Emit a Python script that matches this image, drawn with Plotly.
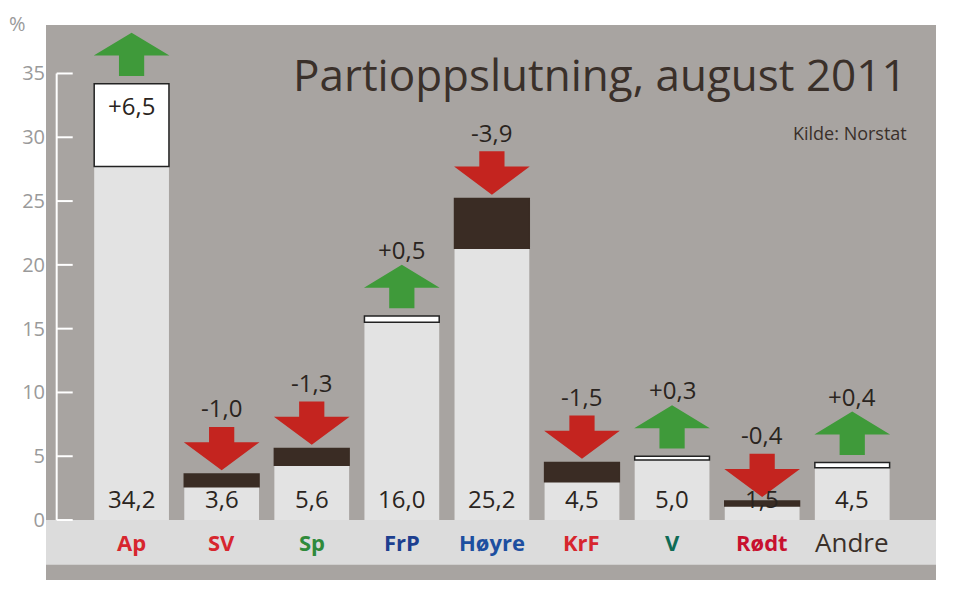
import plotly.graph_objects as go

parties = ["Ap", "SV", "Sp", "FrP", "Høyre", "KrF", "V", "Rødt", "Andre"]
values = [34.2, 3.6, 5.6, 16.0, 25.2, 4.5, 5.0, 1.5, 4.5]
changes = [6.5, -1.0, -1.3, 0.5, -3.9, -1.5, 0.3, -0.4, 0.4]
logo_colors = ["#d7262e", "#d7262e", "#2f8a3a", "#1d3f8f", "#1d4fa0", "#d7262e", "#0f6b55", "#c8102e", "#3a302a"]
tick_vals = [0, 5, 10, 15, 20, 25, 30, 35]

def fmt(v, sign=False):
    s = f"{abs(v):.1f}".replace(".", ",")
    if sign:
        s = ("+" if v >= 0 else "-") + s
    return s

x = list(range(len(parties)))
base = [v - abs(c) for v, c in zip(values, changes)]
seg = [abs(c) for c in changes]
seg_col = ["white" if c > 0 else "#3a2c24" for c in changes]
seg_line = ["#222" if c > 0 else "#3a2c24" for c in changes]

fig = go.Figure()
fig.add_bar(x=x, y=base, marker=dict(color="#e3e3e3", line=dict(width=0)), width=0.83, hoverinfo="skip")
fig.add_bar(x=x, y=seg, base=base, marker=dict(color=seg_col, line=dict(color=seg_line, width=1.5)), width=0.83, hoverinfo="skip")

shapes = []
shapes.append(dict(type="rect", xref="paper", yref="y", x0=0, x1=1, y0=-3.5, y1=0, fillcolor="#dcdcdc", line=dict(width=0), layer="below"))
shapes.append(dict(type="line", xref="paper", yref="y", x0=0.012, x1=0.012, y0=0, y1=35, line=dict(color="white", width=2)))
for t in tick_vals:
    shapes.append(dict(type="line", xref="paper", yref="y", x0=0.012, x1=0.03, y0=t, y1=t, line=dict(color="white", width=2)))

annots = []
for i, (v, c) in enumerate(zip(values, changes)):
    hw, sw = 0.42, 0.14
    if c > 0:
        b = v + 0.6
        pts = [(i - sw, b), (i - sw, b + 1.6), (i - hw, b + 1.6), (i, b + 3.4), (i + hw, b + 1.6), (i + sw, b + 1.6), (i + sw, b)]
        col = "#3f9a3a"
    else:
        t = v + 3.7
        pts = [(i - sw, t), (i - sw, t - 1.2), (i - hw, t - 1.2), (i, v + 0.3), (i + hw, t - 1.2), (i + sw, t - 1.2), (i + sw, t)]
        col = "#c4241f"
    path = "M " + " L ".join(f"{px},{py}" for px, py in pts) + " Z"
    shapes.append(dict(type="path", xref="x", yref="y", path=path, fillcolor=col, line=dict(width=0)))
    ly = v + 5.2 if v + 5.2 < 37 else v - 1.7
    annots.append(dict(x=i, y=ly, text=fmt(c, True), showarrow=False, font=dict(size=24, color="#2a2420")))
    annots.append(dict(x=i, y=1.7, text=fmt(v), showarrow=False, font=dict(size=24, color="#2a2420")))
    annots.append(dict(x=i, y=-1.75, text=f"<b>{parties[i]}</b>" if i < 8 else parties[i], showarrow=False,
                       font=dict(size=22 if i < 8 else 26, color=logo_colors[i])))

annots.append(dict(xref="paper", yref="paper", x=0.97, y=0.97, xanchor="right", yanchor="top",
                   text="Partioppslutning, august 2011", showarrow=False, font=dict(size=44, color="#3a302a")))
annots.append(dict(xref="paper", yref="paper", x=0.97, y=0.83, xanchor="right", yanchor="top",
                   text="Kilde: Norstat", showarrow=False, font=dict(size=18, color="#3a302a")))
annots.append(dict(xref="paper", yref="paper", x=-0.02, y=1.03, xanchor="right", yanchor="top",
                   text="%", showarrow=False, font=dict(size=20, color="#9a9a9a")))

fig.update_layout(
    width=960, height=604, barmode="overlay", showlegend=False,
    paper_bgcolor="white", plot_bgcolor="#a8a4a1",
    margin=dict(l=38, r=32, t=17, b=32),
    font=dict(family="Open Sans, DejaVu Sans"),
    shapes=shapes, annotations=annots,
    xaxis=dict(range=[-0.95, 8.93], showticklabels=False, showgrid=False, zeroline=False),
    yaxis=dict(range=[-4.7, 38.8], tickvals=tick_vals, ticktext=[str(t) for t in tick_vals],
               tickfont=dict(size=20, color="#9a9a9a"), showgrid=False, zeroline=False, ticks=""),
)
fig.write_html("out.html")
